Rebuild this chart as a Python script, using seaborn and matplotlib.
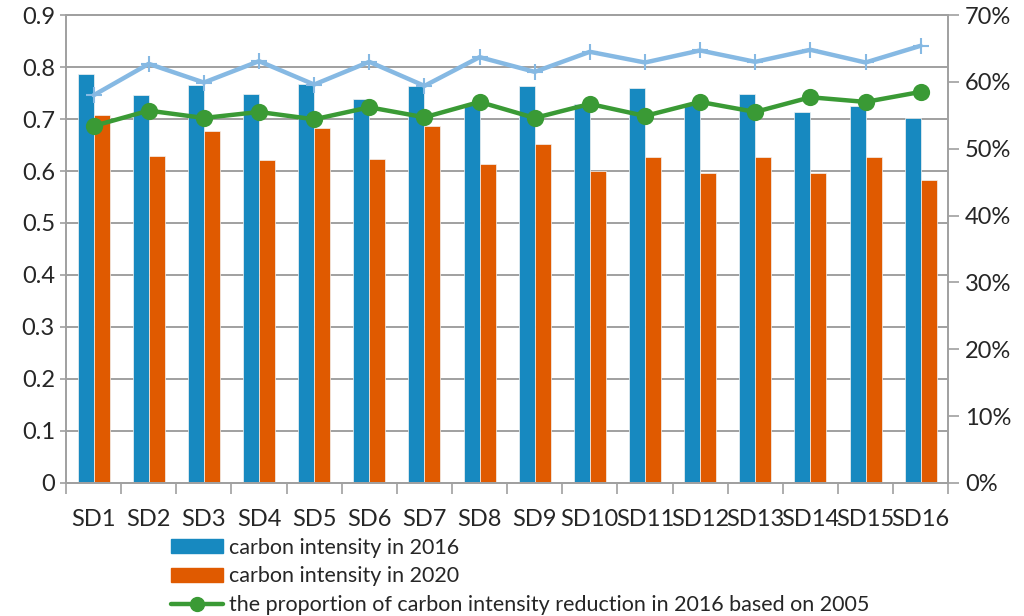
import numpy as np
import pandas as pd
import matplotlib
matplotlib.use('Agg')
import matplotlib.pyplot as plt
import seaborn as sns
from matplotlib.patches import Patch
from matplotlib.lines import Line2D
from matplotlib.ticker import PercentFormatter, MultipleLocator, FuncFormatter

sns.set_style('white')
plt.rcParams['font.family'] = ['Lato', 'DejaVu Sans']

# --- data ---
districts = ['SD1', 'SD2', 'SD3', 'SD4', 'SD5', 'SD6', 'SD7', 'SD8',
             'SD9', 'SD10', 'SD11', 'SD12', 'SD13', 'SD14', 'SD15', 'SD16']
intensity_2016 = [0.786, 0.747, 0.765, 0.749, 0.768, 0.738, 0.763, 0.727,
                  0.764, 0.728, 0.759, 0.727, 0.748, 0.713, 0.725, 0.701]
intensity_2020 = [0.707, 0.629, 0.677, 0.621, 0.683, 0.624, 0.686, 0.613,
                  0.651, 0.600, 0.626, 0.596, 0.626, 0.596, 0.627, 0.583]
reduction_2016 = [0.534, 0.557, 0.546, 0.555, 0.544, 0.562, 0.547, 0.570,
                  0.546, 0.567, 0.549, 0.570, 0.555, 0.577, 0.570, 0.585]
reduction_2020 = [0.580, 0.627, 0.599, 0.631, 0.596, 0.630, 0.594, 0.637,
                  0.615, 0.645, 0.629, 0.647, 0.630, 0.648, 0.629, 0.654]

label_2016 = 'carbon intensity in 2016'
label_2020 = 'carbon intensity in 2020'
label_red = 'the proportion of carbon intensity reduction in 2016 based on 2005'

c_2016 = '#1789C0'
c_2020 = '#E05A00'
c_green = '#3A9A35'
c_light = '#86B9E3'
grey = '#A0A0A0'

bars = pd.DataFrame({
    'district': districts * 2,
    'value': intensity_2016 + intensity_2020,
    'series': [label_2016] * len(districts) + [label_2020] * len(districts),
})

fig = plt.figure(figsize=(10.24, 6.16), dpi=100)
ax = fig.add_axes([0.0645, 0.216, 0.8615, 0.7596])

sns.barplot(data=bars, x='district', y='value', hue='series',
            palette=[c_2016, c_2020], saturation=1, width=0.58, gap=0,
            edgecolor='#f3f3f3', linewidth=0.5, legend=False, ax=ax)

ax.set_ylim(0, 0.9)
ax.yaxis.set_major_locator(MultipleLocator(0.1))
ax.yaxis.set_major_formatter(FuncFormatter(lambda v, p: '0' if abs(v) < 1e-9 else f'{v:.1f}'))
ax.set_xlim(-0.5, len(districts) - 0.5)
ax.grid(axis='y', color=grey, linewidth=1.4)
ax.set_axisbelow(True)
ax.set_xlabel('')
ax.set_ylabel('')

# category boundary ticks
ax.set_xticks(np.arange(len(districts)))
ax.set_xticklabels(districts)
ax.set_xticks(np.arange(-0.5, len(districts)), minor=True)
ax.tick_params(axis='x', which='major', length=0, labelsize=17, pad=19)
ax.tick_params(axis='x', which='minor', length=8, width=1.2, color=grey, direction='out', bottom=True)
ax.tick_params(axis='y', length=4, width=1.2, color=grey, direction='out', left=True, labelsize=17, pad=4)

for side, sp in ax.spines.items():
    sp.set_color(grey)
    sp.set_linewidth(1.4)
ax.spines['right'].set_visible(False)

ax2 = ax.twinx()
sns.pointplot(x=districts, y=reduction_2020, color=c_light, markers='+',
              linestyles='-', markersize=12, markeredgewidth=1.5, linewidth=3.2,
              errorbar=None, ax=ax2)
sns.pointplot(x=districts, y=reduction_2016, color=c_green, markers='o',
              linestyles='-', markersize=10, linewidth=3.2,
              errorbar=None, ax=ax2)
ax2.set_xlim(-0.5, len(districts) - 0.5)
ax2.set_ylim(0, 0.7)
ax2.yaxis.set_major_locator(MultipleLocator(0.1))
ax2.yaxis.set_major_formatter(PercentFormatter(1.0, decimals=0))
ax2.tick_params(axis='y', length=8, width=1.2, color=grey, direction='out', right=True, labelsize=17, pad=4)
ax2.set_ylabel('')
for side, sp in ax2.spines.items():
    sp.set_color(grey)
    sp.set_linewidth(1.4)
ax2.spines['left'].set_visible(False)

handles = [
    Patch(facecolor=c_2016, edgecolor=c_2016),
    Patch(facecolor=c_2020, edgecolor=c_2020),
    Line2D([], [], color=c_green, marker='o', markersize=10, linewidth=3.2),
]
fig.legend(handles, [label_2016, label_2020, label_red], loc='upper left',
           bbox_to_anchor=(0.159, 0.141), frameon=False, fontsize=15.5,
           handlelength=2.4, handleheight=0.65, handletextpad=0.28,
           labelspacing=0.4, borderaxespad=0)

fig.savefig('out.png', dpi=100)
